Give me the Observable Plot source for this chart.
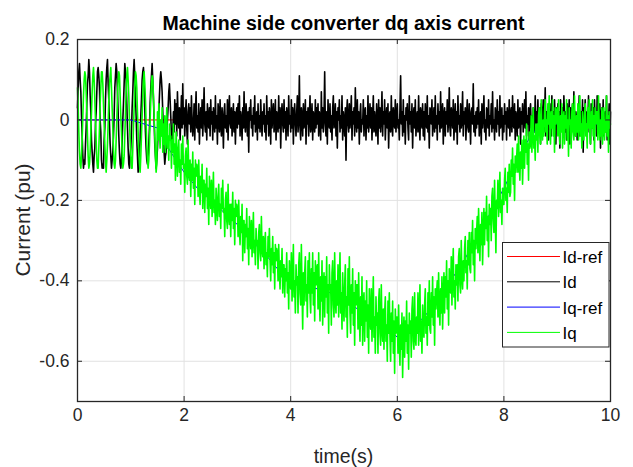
<!DOCTYPE html>
<html>
<head>
<meta charset="utf-8">
<script src="https://cdn.jsdelivr.net/npm/d3@7"></script>
<script src="https://cdn.jsdelivr.net/npm/@observablehq/plot@0.6"></script>
<style>
  html, body { margin: 0; padding: 0; background: #fff; }
  #wrap { position: relative; width: 633px; height: 467px; font-family: "Liberation Sans", Arial, sans-serif; }
  #wrap > svg { position: absolute; left: 0; top: 0; }
</style>
</head>
<body>
<div id="wrap"></div>
<script>
// ---- data ----
const titleText = "Machine side converter dq axis current";
const xLabel = "time(s)";
const yLabel = "Current (pu)";
const seriesNames = ["Id-ref", "Id", "Iq-ref", "Iq"];
const seriesColors = ["#ff0000", "#000000", "#0000ff", "#00ff00"];
const xTicks = [0, 2, 4, 6, 8, 10];
const yTicks = [-0.6, -0.4, -0.2, 0, 0.2];
const tStart = 0, tEnd = 10; // signals are sampled evenly over this span

// Id (black), in hundredths of pu, evenly sampled from 0 to 10 s
const idCenti = [
  3,8,12,14,10,7,1,-4,-9,-12,-10,-11,-6,-2, 4,9,11,15,12,6,2,-5,-8,-11,-13,-9,-7,-1, 2,7,12,13,11,8,0,-3,-10,-12,-11,-12,-5,-2,
  5,10,13,15,9,5,-1,-6,-9,-12,-10,-8,-4, 1,8,11,14,12,7,2,-4,-8,-11,-12,-10,-6,0, 4,9,14,12,10,4,-2,-7,-11,-12,-9,-7,-3,
  3,7,12,15,11,6,1,-5,-9,-13,-11,-8,-5,1, 5,10,12,13,9,3,-3,-7,-10,-11,-9,-6,-2, 4,8,11,14,10,5,0,-6,-9,-12,-10,-7,-3,2,
  6,10,12,10,7,2,-4,-8,-11,-9,-8,-4,0, 3,7,9,5,1,-4,-7,-3,
  2,-3,5,-1,4,-4,7,1,-2,3,-5,0,6,-2,9,-1,
  3,-4,1,5,-2,-6,2,4,-1,3,-3,6,0,-4,-1,4,-5,2,7,-2,1,-3,4,-6,0,3,-2,5,-4,1,8,-1,-3,2,-5,4,0,-2,3,-4,
  5,-1,2,-5,3,0,-3,6,-2,1,-6,4,2,-3,5,-1,-4,3,0,-7,2,4,-2,1,-3,5,-5,2,6,-1,-2,3,-4,0,4,-3,2,-6,1,3,
  -2,4,-1,6,-4,2,0,-5,3,-2,7,-1,-3,4,1,-4,2,-8,3,0,5,-2,1,-4,3,-1,6,-3,0,2,-5,4,-2,1,-3,5,0,-4,2,-1,
  4,-3,1,-5,6,-1,2,-4,3,0,-6,5,-2,1,4,-3,-1,5,-5,2,0,-3,6,-2,3,-7,1,4,-1,-3,5,-2,2,-5,3,0,-4,6,-1,1,
  -3,5,-2,3,-6,1,4,-1,-4,2,6,-3,0,11,-2,-5,3,1,-4,4,-2,0,5,-6,2,-1,3,-4,1,6,-3,-1,4,-5,2,0,-3,5,-2,3,
  -1,4,-4,2,0,-5,7,-2,3,-3,1,12,-1,-4,2,-6,5,0,-2,4,-3,1,-5,3,6,-2,-1,4,-4,2,-7,3,0,5,-3,1,-2,6,-5,2,
  0,-4,3,-10,2,5,-1,-3,4,-2,1,6,-5,2,-1,3,-4,8,0,-3,5,-2,2,-6,1,4,-3,0,-1,5,-4,2,3,-5,1,-2,6,-3,0,4,
  -2,3,-5,1,6,-3,2,-1,-4,4,0,-6,5,-2,3,-3,1,7,-4,2,-1,5,-5,0,3,-2,4,-7,1,2,-3,6,-1,-4,3,0,-2,5,-3,1,
  4,-2,0,-5,3,11,-1,2,-4,5,-3,1,-6,3,0,4,-2,-5,6,-1,2,-3,4,-7,1,3,-2,5,-4,0,2,-3,6,-1,-5,3,1,-2,4,-4,
  2,-5,4,0,-2,6,-3,1,-7,3,2,-1,5,-4,0,3,-3,6,-2,1,-5,4,-1,2,-3,7,-2,0,4,-6,1,3,-4,2,-1,5,-3,0,8,-2,
  -4,3,1,-2,5,-5,0,4,-3,2,-6,6,-1,1,-3,4,-2,0,7,-4,2,-1,3,-5,1,5,-2,-3,4,0,-6,2,3,-1,9,-3,1,-4,2,-2,
  3,-1,5,-4,0,2,-6,4,-2,1,6,-3,0,-5,3,2,-2,5,-4,1,-1,4,-3,7,-2,0,-5,3,1,-3,5,-1,2,-4,6,-2,0,3,-5,1,
  -3,4,-1,2,-5,3,0,-2,5,-4,1,3,-3,6,-1,-2,4,-5,2,0,-4,5,-2,1,3,-6,2,-1,4,-3,0,5,-2,7,-4,1,-1,3,-5,2,
  4,-2,1,-5,3,0,-3,6,-1,2,-4,5,-2,0,3,-6,4,1,-2,5,-3,0,8,-4,2,-1,3,-5,1,4,-2,-4,6,-1,2,-3,5,0,-6,3,
  -1,4,-3,2,-7,5,0,-2,3,-4,6,1,-3,2,-5,4,-1,0,5,-6,3,-2,1,4,-3,7,-1,-4,2,0,-5,3,-2,6,-4,1,2,-3,5,-8,
  3,-2,5,0,-4,2,-1,6,-3,1,-6,4,0,-2,3,-5,5,-1,2,-4,6,-2,0,-3,4,-7,1,3,-2,5,-4,0,2,-3,6,-5,1,-1,4,-6,
  2
];

// Iq (green), in hundredths of pu, evenly sampled from 0 to 10 s
const iqCenti = [
  8,3,-3,-8,-11,-12,-9,-5,1,6,10,12,11,7, 2,-4,-9,-12,-11,-8,-3,2,7,11,13,10,5, 0,-5,-10,-12,-12,-7,-2,4,8,12,12,9,4,-1,
  -6,-10,-13,-10,-6,-1,5,9,11,13,8,3, -2,-7,-11,-12,-10,-5,0,6,10,12,11,6,1,-3, -8,-12,-11,-9,-4,2,7,11,13,10,6,0,-5,
  -9,-12,-12,-7,-2,3,8,12,11,8,2,-3,-8,-11, -13,-9,-4,1,6,10,12,9,5,-1,-6,-10,-12, -10,-6,0,5,9,11,10,6, 1,-4,-9,-13,-11,
  2,-5,4,-3,-7,0,-4,3,-8,-1, -6,1,-8,-3,3,-7,-4,-10,-1,-5, -4,-12,-5,-8,-1,-11,-6,-15,-3,-7, -14,-8,-5,-13,-10,-16,-6,-11,-4,-12,
  -11,-18,-9,-7,-14,-16,-5,-13,-15,-10, -19,-11,-15,-8,-17,-12,-21,-10,-14,-11, -12,-19,-10,-17,-21,-14,-18,-11,-22,-15, -15,-23,-16,-19,-12,-22,-17,-26,-14,-18,
  -22,-15,-24,-19,-13,-23,-20,-26,-17,-21, -25,-19,-16,-24,-21,-27,-17,-22,-15,-23, -22,-29,-20,-18,-25,-27,-16,-24,-26,-21, -29,-21,-25,-18,-27,-22,-31,-20,-24,-21,
  -22,-29,-20,-27,-31,-24,-28,-21,-35,-25, -25,-33,-26,-29,-22,-32,-27,-36,-24,-28, -32,-25,-34,-29,-23,-33,-30,-36,-27,-31, -30,-37,-28,-26,-33,-35,-24,-32,-34,-29,
  -37,-31,-28,-36,-33,-39,-29,-34,-27,-35, -40,-32,-36,-29,-38,-33,-42,-31,-35,-32, -33,-40,-31,-38,-42,-35,-39,-32,-43,-36, -36,-44,-37,-40,-33,-43,-38,-47,-35,-39,
  -42,-33,-45,-39,-31,-44,-40,-48,-36,-41, -39,-48,-36,-33,-43,-46,-31,-42,-52,-38, -46,-38,-34,-45,-41,-49,-35,-43,-33,-44, -48,-37,-43,-33,-46,-38,-50,-35,-41,-37,
  -36,-47,-33,-44,-50,-39,-45,-35,-51,-41, -38,-49,-39,-44,-34,-48,-41,-53,-36,-42, -41,-51,-38,-35,-46,-49,-33,-45,-48,-40, -46,-36,-49,-41,-33,-48,-43,-52,-38,-45,
  -50,-41,-36,-49,-44,-54,-37,-46,-34,-48, -53,-41,-48,-37,-51,-43,-56,-40,-46,-41, -41,-52,-38,-49,-55,-44,-51,-39,-56,-45, -43,-55,-45,-50,-40,-54,-46,-58,-42,-48,
  -52,-42,-55,-47,-39,-54,-49,-58,-44,-51, -48,-58,-45,-42,-53,-56,-41,-52,-55,-47, -57,-48,-44,-55,-51,-60,-45,-53,-43,-54, -60,-48,-55,-45,-58,-50,-63,-47,-53,-49,
  -49,-58,-46,-56,-61,-51,-57,-48,-64,-53, -49,-59,-50,-55,-45,-58,-51,-62,-48,-53, -50,-59,-47,-44,-55,-57,-43,-54,-56,-49, -53,-43,-56,-48,-41,-55,-50,-58,-46,-52,
  -54,-46,-42,-53,-49,-56,-43,-51,-40,-52, -53,-43,-49,-39,-51,-44,-56,-42,-47,-43, -40,-49,-38,-47,-51,-42,-48,-39,-52,-44, -38,-48,-39,-44,-35,-47,-40,-51,-37,-42,
  -43,-34,-46,-38,-32,-44,-40,-47,-36,-41, -36,-45,-34,-32,-41,-43,-30,-39,-42,-35, -40,-32,-29,-38,-35,-42,-30,-36,-28,-37, -38,-28,-33,-25,-36,-30,-40,-27,-32,-28,
  -24,-33,-22,-30,-35,-26,-31,-23,-36,-28, -22,-31,-23,-27,-19,-30,-24,-34,-21,-26, -22,-30,-19,-17,-25,-28,-15,-24,-33,-20, -22,-15,-24,-19,-13,-23,-20,-26,-17,-21,
  -21,-15,-12,-20,-17,-23,-13,-18,-11,-19, -18,-10,-14,-7,-16,-11,-20,-9,-13,-10, -6,-13,-4,-11,-15,-8,-12,-5,-16,-9, -4,-12,-5,-8,-1,-11,-6,-15,-3,-7,
  -6,1,-8,-3,3,-7,-4,-10,-1,-5, -1,-8,1,3,-4,-6,5,-3,-5,0, -4,2,5,-3,0,-6,4,-1,6,-2, -6,2,-2,5,-4,1,-8,3,-1,2,
  3,-4,5,-2,-6,1,-3,4,-7,0, 2,-6,1,-2,5,-5,0,-9,3,-1, 0,-7,2,4,-3,-5,6,-2,-4,1, -3,4,-5,0,6,-4,-1,-7,2,-2,
  -5,1,4,-4,-1,-7,3,-2,5,-3, -6,2,-2,5,-4,1,-8,3,-1,2, 2,-5,6,-1,-5,0,-4,3,-6,1, 3,-5,0,-3,6,-4,1,-8,2,-2,
  -1
];

// Iq-ref (blue), in hundredths of pu, every 0.25 s from 0 to 10 s
const iqRefCenti = [
  0,0,0,0,0,-1,-2,-8,-13,-17,-20,-23,-26,-30,-33,-37,-40,-41,-42,-43,
  -44,-47,-49,-51,-54,-52,-49,-45,-40,-35,-29,-23,-17,-10,-4,0,-1,-1,-1,-1,0
];
// Id-ref (red), in hundredths of pu, at the two ends of the run
const idRefCenti = [0, 0];

// ---- build tables ----
const toRows = arr => arr.map((c, i) => ({t: tStart + (tEnd - tStart) * i / (arr.length - 1), v: c / 100}));
const idData = toRows(idCenti);
const iqData = toRows(iqCenti);
const iqRefData = toRows(iqRefCenti);
const idRefData = toRows(idRefCenti);

const W = 633, H = 467;
const mL = 77, mR = 23, mT = 39, mB = 66;
const plotW = W - mL - mR, plotH = H - mT - mB;
const tick = 5;
const axisColor = "#262626";
const gridColor = "#e2e2e2";

const chart = Plot.plot({
  width: W, height: H,
  marginLeft: mL, marginRight: mR, marginTop: mT, marginBottom: mB,
  style: {fontFamily: '"Liberation Sans", Arial, sans-serif', fontSize: "17.5px", color: axisColor, background: "white"},
  x: {domain: [0, 10]},
  y: {domain: [-0.7, 0.2]},
  marks: [
    Plot.gridX(xTicks, {stroke: gridColor, strokeOpacity: 1}),
    Plot.gridY(yTicks, {stroke: gridColor, strokeOpacity: 1}),
    Plot.line(idRefData, {x: "t", y: "v", stroke: seriesColors[0], strokeWidth: 1}),
    Plot.line(idData, {x: "t", y: "v", stroke: seriesColors[1], strokeWidth: 1.6}),
    Plot.line(iqRefData, {x: "t", y: "v", stroke: seriesColors[2], strokeWidth: 1}),
    Plot.line(iqData, {x: "t", y: "v", stroke: seriesColors[3], strokeWidth: 1.6}),
    // inward tick marks on all four sides
    Plot.ruleX(xTicks, {x: d => d, insetTop: plotH - tick, stroke: axisColor}),
    Plot.ruleX(xTicks, {x: d => d, insetBottom: plotH - tick, stroke: axisColor}),
    Plot.ruleY(yTicks, {y: d => d, insetRight: plotW - tick, stroke: axisColor}),
    Plot.ruleY(yTicks, {y: d => d, insetLeft: plotW - tick, stroke: axisColor}),
    Plot.frame({stroke: axisColor, strokeWidth: 1.3}),
    Plot.axisX(xTicks, {tickSize: 0, tickPadding: 7, tickFormat: d => String(d), label: null, fill: axisColor}),
    Plot.axisY(yTicks, {tickSize: 0, tickPadding: 8, tickFormat: d => String(d), label: null, fill: axisColor})
  ]
});

const wrap = document.getElementById("wrap");
wrap.appendChild(chart);

// overlay: title, axis labels and legend as real text
const ov = d3.select(wrap).append("svg").attr("width", W).attr("height", H)
  .style("position", "absolute").style("left", 0).style("top", 0)
  .attr("font-family", '"Liberation Sans", Arial, sans-serif');

ov.append("text").attr("x", mL + plotW / 2).attr("y", 30).attr("text-anchor", "middle")
  .attr("font-size", 19.5).attr("font-weight", "bold").attr("fill", "#000").text(titleText);
ov.append("text").attr("x", mL + plotW / 2).attr("y", 463).attr("text-anchor", "middle")
  .attr("font-size", 19.5).attr("fill", axisColor).text(xLabel);
ov.append("text").attr("transform", `translate(30,${mT + plotH / 2}) rotate(-90)`).attr("text-anchor", "middle")
  .attr("font-size", 21).attr("fill", axisColor).text(yLabel);

// legend
const lg = ov.append("g");
lg.append("rect").attr("x", 502.5).attr("y", 242.5).attr("width", 106.5).attr("height", 104.5)
  .attr("fill", "white").attr("stroke", axisColor).attr("stroke-width", 1);
seriesNames.forEach((name, i) => {
  const yy = 256.5 + i * 25.3;
  lg.append("line").attr("x1", 507).attr("x2", 560).attr("y1", yy).attr("y2", yy)
    .attr("stroke", seriesColors[i]).attr("stroke-width", 1);
  lg.append("text").attr("x", 562.5).attr("y", yy + 6.5).attr("font-size", 17).attr("fill", "#000").text(name);
});
</script>
</body>
</html>
